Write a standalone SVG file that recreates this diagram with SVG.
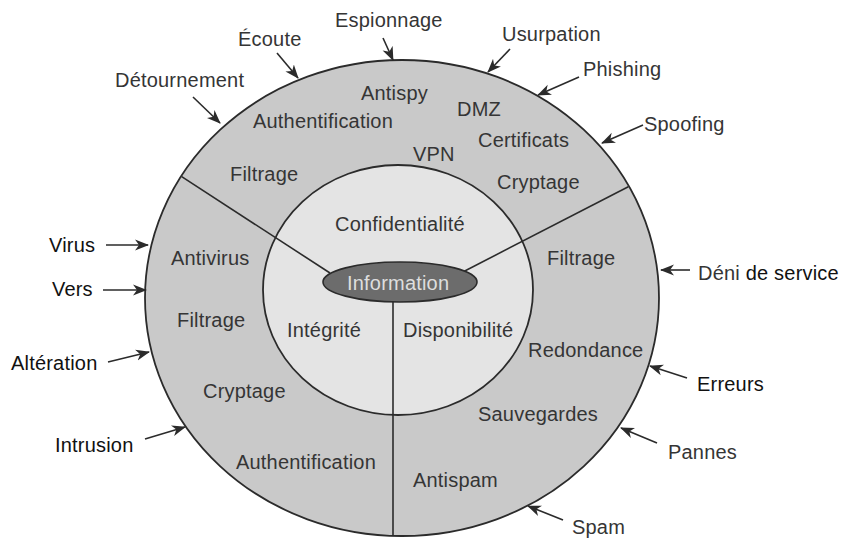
<svg xmlns="http://www.w3.org/2000/svg" width="846" height="540" viewBox="0 0 846 540">
  <style>
    .t { font-family: "Liberation Sans", Arial, sans-serif; font-size: 20px; letter-spacing: 0.2px; fill: #353535; }
    .k { fill: #111111; }
    .edge { stroke: #2b2b2b; stroke-width: 1.6; fill: none; }
    .arrow { stroke: #2b2b2b; stroke-width: 1.6; fill: none; marker-end: url(#head); }
  </style>
  <defs>
    <marker id="head" viewBox="0 0 14 12" refX="13" refY="6" markerWidth="14" markerHeight="12" markerUnits="userSpaceOnUse" orient="auto">
      <path d="M0,0.5 L14,6 L0,11.5 L4,6 z" fill="#2b2b2b"/>
    </marker>
  </defs>

  <rect width="846" height="540" fill="#ffffff"/>

  <!-- outer protection ring and inner core -->
  <g id="ring-outer">
    <ellipse cx="402" cy="298" rx="257" ry="238" fill="#c9c9c9" stroke="#2b2b2b" stroke-width="1.8"/>
  </g>
  <g id="ring-inner">
    <ellipse cx="398" cy="290" rx="135" ry="125" fill="#e4e4e4" stroke="#2b2b2b" stroke-width="1.8"/>
  </g>

  <!-- sector dividers -->
  <g id="dividers">
    <line class="edge" x1="181.7" y1="176.7" x2="330" y2="273"/>
    <line class="edge" x1="628.3" y1="186.7" x2="457" y2="275"/>
    <line class="edge" x1="393" y1="300" x2="393" y2="536"/>
  </g>

  <g id="information">
    <ellipse cx="400" cy="282" rx="77" ry="20" fill="#6c6c6c" stroke="#2b2b2b" stroke-width="1.6"/>
    <text class="t" x="347" y="290" style="fill:#dedede">Information</text>
  </g>

  <!-- core properties -->
  <g id="confidentialite"><text class="t" x="335" y="231">Confidentialité</text></g>
  <g id="integrite"><text class="t" x="287" y="337">Intégrité</text></g>
  <g id="disponibilite"><text class="t" x="403" y="337">Disponibilité</text></g>

  <!-- countermeasures, upper sector -->
  <g id="sector-confidentialite">
    <text class="t" x="361" y="100">Antispy</text>
    <text class="t" x="253" y="128">Authentification</text>
    <text class="t" x="457" y="116">DMZ</text>
    <text class="t" x="478" y="147">Certificats</text>
    <text class="t" x="413" y="161">VPN</text>
    <text class="t" x="230" y="181">Filtrage</text>
    <text class="t" x="497" y="189">Cryptage</text>
  </g>

  <!-- countermeasures, left sector -->
  <g id="sector-integrite">
    <text class="t" x="171" y="265">Antivirus</text>
    <text class="t" x="177" y="327">Filtrage</text>
    <text class="t" x="203" y="398">Cryptage</text>
    <text class="t" x="236" y="469">Authentification</text>
  </g>

  <!-- countermeasures, right sector -->
  <g id="sector-disponibilite">
    <text class="t" x="547" y="265">Filtrage</text>
    <text class="t" x="528" y="357">Redondance</text>
    <text class="t" x="478" y="421">Sauvegardes</text>
    <text class="t" x="413" y="487">Antispam</text>
  </g>

  <!-- threats -->
  <g id="threats">
    <text class="t" x="335" y="27">Espionnage</text>
    <text class="t" x="238" y="46">Écoute</text>
    <text class="t" x="115" y="87">Détournement</text>
    <text class="t" x="502" y="41">Usurpation</text>
    <text class="t" x="583" y="76">Phishing</text>
    <text class="t" x="644" y="131">Spoofing</text>
    <text class="t k" x="49" y="252">Virus</text>
    <text class="t k" x="52" y="296">Vers</text>
    <text class="t k" x="11" y="370">Altération</text>
    <text class="t k" x="55" y="452">Intrusion</text>
    <text class="t" x="698" y="280">Déni <tspan class="k">de service</tspan></text>
    <text class="t k" x="697" y="391">Erreurs</text>
    <text class="t" x="668" y="459">Pannes</text>
    <text class="t" x="572" y="534">Spam</text>
  </g>

  <!-- threat arrows -->
  <g id="connectors">
    <line class="arrow" x1="383" y1="38" x2="393" y2="60"/>
    <line class="arrow" x1="277" y1="53" x2="298" y2="78"/>
    <line class="arrow" x1="193" y1="97" x2="220" y2="123"/>
    <line class="arrow" x1="510" y1="49" x2="488" y2="72"/>
    <line class="arrow" x1="579" y1="77" x2="538" y2="95"/>
    <line class="arrow" x1="643" y1="125" x2="602" y2="143"/>
    <line class="arrow" x1="106" y1="245" x2="148" y2="245"/>
    <line class="arrow" x1="103" y1="290" x2="146" y2="290"/>
    <line class="arrow" x1="108" y1="362" x2="149" y2="352"/>
    <line class="arrow" x1="145" y1="439" x2="185" y2="427"/>
    <line class="arrow" x1="690" y1="270" x2="661" y2="270"/>
    <line class="arrow" x1="687" y1="378" x2="650" y2="366"/>
    <line class="arrow" x1="657" y1="443" x2="621" y2="428"/>
    <line class="arrow" x1="563" y1="520" x2="528" y2="506"/>
  </g>
</svg>
